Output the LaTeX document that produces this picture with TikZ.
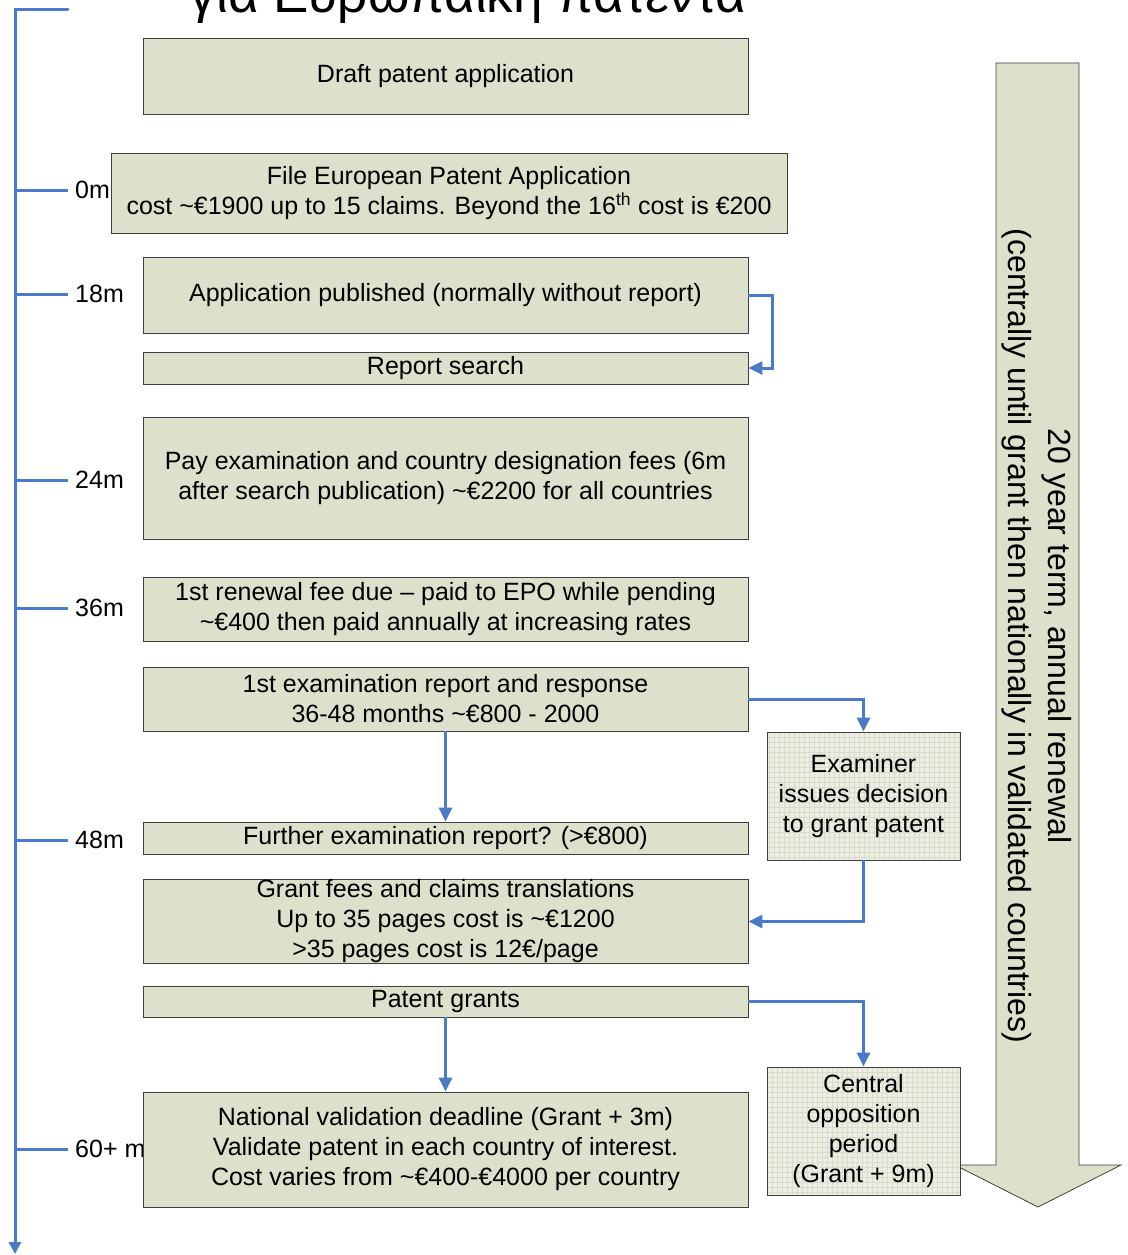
\documentclass[tikz,border=0pt]{standalone}
\usepackage{fontspec}
\setmainfont{Liberation Sans}
\usetikzlibrary{arrows.meta}
\definecolor{boxfill}{HTML}{DDE0CB}
\definecolor{gridfill}{HTML}{ECEEE3}
\definecolor{gridline}{HTML}{D9DCC8}
\definecolor{edge}{HTML}{404040}
\definecolor{axis}{HTML}{4A7BC8}
\begin{document}
\begin{tikzpicture}[x=1pt,y=-1pt,
  box/.style={draw=edge, line width=0.8pt, fill=boxfill, inner sep=0pt, align=center,
    font=\fontsize{25}{30}\selectfont},
  gridbox/.style={box, fill=gridfill, path picture={
    \draw[gridline, line width=0.4pt, step=5pt] (path picture bounding box.south west) grid (path picture bounding box.north east);}},
  conn/.style={axis, line width=3pt, -{Triangle[width=13pt,length=14pt]}},
  tick/.style={axis, line width=3pt},
  lbl/.style={anchor=west, inner sep=0pt, font=\fontsize{25}{28}\selectfont}]
\useasboundingbox (0,0) rectangle (1127,1255);
% title (cut off)
\node[anchor=base, inner sep=0pt, font=\fontsize{53}{60}\selectfont] (title) at (468,13) {για Ευρωπαϊκή πατέντα};
% time axis
\coordinate (atop) at (68,10);
\coordinate (acorner) at (15,10);
\coordinate (abot) at (15,1254);
\draw[tick, line cap=round, -{Triangle[width=12pt,length=12pt]}] (atop) -- (acorner) -- (abot);
\foreach \yy/\nm/\tx in {190/t0/0m, 294/t18/18m, 480/t24/24m, 608/t36/36m, 840/t48/48m, 1149/t60/60+ m}{
  \coordinate (\nm a) at (15,\yy);
  \coordinate (\nm b) at (68,\yy);
  \draw[tick] (\nm a) -- (\nm b);
  \node[lbl] (\nm l) at (75,\yy) {\tx};
}
% big arrow
\filldraw[fill=boxfill, draw=edge, line width=0.8pt] (996,63) -- (1079,63) -- (1079,1165) -- (1121,1165) -- (1038,1207) -- (955,1165) -- (996,1165) -- cycle;
\node[rotate=-90, align=center, inner sep=0pt, font=\fontsize{32}{40}\selectfont] (term) at (1037,636)
  {20 year term, annual renewal\\(centrally until grant then nationally in validated countries)};
% boxes
\node[box, minimum width=605pt, minimum height=76pt] (draft) at (445.5,76) {Draft patent application};
\node[box, minimum width=676pt, minimum height=80pt] (file) at (449,193) {File European Patent Application\\cost \char"007E €1900 up to 15 claims. Beyond the 16\textsuperscript{th} cost is €200};
\node[box, minimum width=605pt, minimum height=76pt] (pub) at (445.5,295) {Application published (normally without report)};
\node[box, minimum width=605pt, minimum height=32pt] (search) at (445.5,368) {Report search};
\node[box, minimum width=605pt, minimum height=122pt] (pay) at (445.5,478) {Pay examination and country designation fees (6m\\after search publication) \char"007E €2200 for all countries};
\node[box, minimum width=605pt, minimum height=64pt] (renew) at (445.5,609) {1st renewal fee due – paid to EPO while pending\\\char"007E €400 then paid annually at increasing rates};
\node[box, minimum width=605pt, minimum height=64pt] (exam) at (445.5,699) {1st examination report and response\\36-48 months \char"007E €800 - 2000};
\node[box, minimum width=605pt, minimum height=32pt] (further) at (445.5,838) {Further examination report? (>€800)};
\node[box, minimum width=605pt, minimum height=83pt] (fees) at (445.5,921.5) {Grant fees and claims translations\\Up to 35 pages cost is \char"007E €1200\\>35 pages cost is 12€/page};
\node[box, minimum width=605pt, minimum height=31pt] (grants) at (445.5,1001.5) {Patent grants};
\node[box, minimum width=605pt, minimum height=115pt] (natl) at (445.5,1149.5) {National validation deadline (Grant + 3m)\\Validate patent in each country of interest.\\Cost varies from \char"007E €400-€4000 per country};
\node[gridbox, minimum width=193pt, minimum height=128pt] (examiner) at (863.5,796) {Examiner\\issues decision\\to grant patent};
\node[gridbox, minimum width=193pt, minimum height=128pt] (central) at (863.5,1131) {Central\\opposition\\period\\(Grant + 9m)};
% connectors
\draw[conn] (pub.east) -- ++(24,0) |- (search.east);
\draw[conn] (exam.east) -| (examiner.north);
\draw[conn] (exam.south) -- (further.north);
\draw[conn] (examiner.south) |- (fees.east);
\draw[conn] (grants.east) -| (central.north);
\draw[conn] (grants.south) -- (natl.north);
\end{tikzpicture}
\end{document}
